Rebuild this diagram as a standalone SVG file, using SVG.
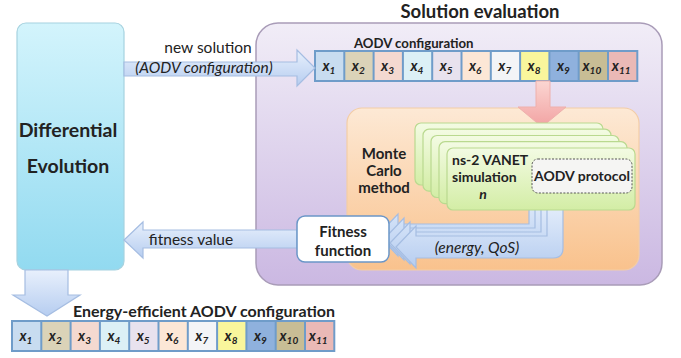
<svg xmlns="http://www.w3.org/2000/svg" width="681" height="358" viewBox="0 0 681 358">
<defs>
<linearGradient id="gDE" x1="0" y1="0" x2="0" y2="1"><stop offset="0" stop-color="#d3f4fc"/><stop offset="1" stop-color="#92daf0"/></linearGradient>
<linearGradient id="gPur" x1="0" y1="0" x2="0" y2="1"><stop offset="0" stop-color="#f1edf7"/><stop offset="1" stop-color="#cbb8e2"/></linearGradient>
<linearGradient id="gOr" x1="0" y1="0" x2="0" y2="1"><stop offset="0" stop-color="#fde9d5"/><stop offset="1" stop-color="#f9c28d"/></linearGradient>
<linearGradient id="gGr" x1="0" y1="0" x2="0" y2="1"><stop offset="0" stop-color="#f3fbe3"/><stop offset="1" stop-color="#d3eda5"/></linearGradient>
<linearGradient id="gBl" x1="0" y1="0" x2="0" y2="1"><stop offset="0" stop-color="#e8f0fc"/><stop offset="1" stop-color="#b6cdf0"/></linearGradient>
<linearGradient id="gPk" x1="0" y1="0" x2="0" y2="1"><stop offset="0" stop-color="#fbd6d2"/><stop offset="1" stop-color="#f2a2a2"/></linearGradient>
<g id="row">
<rect x="0" y="0" width="29.3" height="30" fill="#c8dcf0"/>
<rect x="29.3" y="0" width="29.3" height="30" fill="#dbd3b8"/>
<rect x="58.6" y="0" width="29.3" height="30" fill="#f4d9d0"/>
<rect x="87.9" y="0" width="29.3" height="30" fill="#dcf0f6"/>
<rect x="117.2" y="0" width="29.3" height="30" fill="#e8e2ee"/>
<rect x="146.5" y="0" width="29.3" height="30" fill="#fce7d6"/>
<rect x="175.8" y="0" width="29.3" height="30" fill="#f3f4f7"/>
<rect x="205.1" y="0" width="29.3" height="30" fill="#f9f69c"/>
<rect x="234.4" y="0" width="29.3" height="30" fill="#8fb1dd"/>
<rect x="263.7" y="0" width="29.3" height="30" fill="#c8bd95"/>
<rect x="293" y="0" width="29.3" height="30" fill="#eab9b6"/>
<g fill="none" stroke="#6f9cc9" stroke-width="2">
<rect x="0" y="0" width="322.3" height="30"/>
<path d="M29.3 0V30M58.6 0V30M87.9 0V30M117.2 0V30M146.5 0V30M175.8 0V30M205.1 0V30M234.4 0V30M263.7 0V30M293 0V30"/>
</g>
<g class="cx">
<text x="7.5" y="20">x<tspan class="sb" dy="3">1</tspan></text>
<text x="36.8" y="20">x<tspan class="sb" dy="3">2</tspan></text>
<text x="66.1" y="20">x<tspan class="sb" dy="3">3</tspan></text>
<text x="95.4" y="20">x<tspan class="sb" dy="3">4</tspan></text>
<text x="124.7" y="20">x<tspan class="sb" dy="3">5</tspan></text>
<text x="154" y="20">x<tspan class="sb" dy="3">6</tspan></text>
<text x="183.3" y="20">x<tspan class="sb" dy="3">7</tspan></text>
<text x="212.6" y="20">x<tspan class="sb" dy="3">8</tspan></text>
<text x="241.9" y="20">x<tspan class="sb" dy="3">9</tspan></text>
<text x="267.5" y="20">x<tspan class="sb" dy="3">10</tspan></text>
<text x="296.8" y="20">x<tspan class="sb" dy="3">11</tspan></text>
</g>
</g>
<path id="uarr" d="M396 247 L416 226 L416 236 L547 236 L547 200 L563 200 L563 248 Q563 258 553 258 L416 258 L416 268 Z"/>
</defs>
<style>
text{font-family:Lato,"Open Sans","Liberation Sans",sans-serif;fill:#222}
.b{font-weight:bold}
.cx text{font-size:14.5px;font-style:italic;font-weight:bold}
.sb{font-size:10px}
.lbl{font-size:15.5px}
.it{font-style:italic}
.ar{fill:url(#gBl);stroke:#a5bde2;stroke-width:1.2}
</style>

<g id="solution-evaluation">
<rect x="256" y="23" width="406" height="262" rx="22" fill="url(#gPur)" stroke="#a99cb8" stroke-width="1.5"/>
<text x="480" y="18" text-anchor="middle" class="b" font-size="18.5">Solution evaluation</text>
</g>

<g id="differential-evolution">
<rect x="17" y="23" width="107" height="247" rx="9" fill="url(#gDE)" stroke="#a6d2df" stroke-width="1.2"/>
<text x="68" y="137" text-anchor="middle" class="b" font-size="19.5">Differential</text>
<text x="68" y="173" text-anchor="middle" class="b" font-size="19.5">Evolution</text>
</g>

<g id="aodv-config">
<text x="354" y="48" class="b" font-size="13.2">AODV configuration</text>
<use href="#row" x="315" y="51"/>
</g>

<g id="monte-carlo">
<rect x="347" y="108" width="292" height="162" rx="15" fill="url(#gOr)" stroke="#f3cda6" stroke-width="1.2"/>
<text x="384" y="159" text-anchor="middle" class="b" font-size="15">Monte</text>
<text x="384" y="176" text-anchor="middle" class="b" font-size="15">Carlo</text>
<text x="384" y="193" text-anchor="middle" class="b" font-size="15">method</text>
</g>

<g id="connectors">
<path class="ar" d="M124 62 L297 62 L297 50 L315 68 L297 86 L297 76 L124 76 Z"/>
<text x="208" y="53" text-anchor="middle" class="lbl">new solution</text>
<text x="204" y="73" text-anchor="middle" class="lbl it">(AODV configuration)</text>
<path d="M536 81 L550 81 L550 107 L566 107 L542 127 L518 107 L536 107 Z" fill="url(#gPk)" stroke="#eeb0ac" stroke-width="1"/>
<g class="ar" stroke="#ffffff">
<use href="#uarr" x="-18" y="-12"/>
<use href="#uarr" x="-12" y="-8"/>
<use href="#uarr" x="-6" y="-4"/>
</g>
<use href="#uarr" class="ar"/>
<text x="477" y="253" text-anchor="middle" class="lbl it">(energy, QoS)</text>
<path class="ar" d="M297 230 L143 230 L143 222 L124 240 L143 258 L143 248 L297 248 Z"/>
<text x="191" y="245" text-anchor="middle" class="lbl">fitness value</text>
<path class="ar" d="M25 270 L68 270 L68 295 L80 295 L47 316 L13 295 L25 295 Z"/>
</g>

<g id="ns2-simulation">
<g fill="url(#gGr)" stroke="#b9d98f" stroke-width="1.2">
<rect x="415" y="123" width="188" height="62" rx="6"/>
<rect x="423" y="129.2" width="188" height="62" rx="6"/>
<rect x="431" y="135.5" width="188" height="62" rx="6"/>
<rect x="439" y="141.7" width="188" height="62" rx="6"/>
<rect x="447" y="148" width="188" height="62" rx="6"/>
</g>
<text x="452" y="165" class="b" font-size="14">ns-2 VANET</text>
<text x="452" y="182" class="b" font-size="14">simulation</text>
<text x="483" y="199" text-anchor="middle" class="b it" font-size="14">n</text>
</g>

<g id="aodv-protocol">
<rect x="532" y="159" width="100" height="34" rx="6" fill="#f5f5f3" stroke="#555" stroke-width="1" stroke-dasharray="2 1.5"/>
<text x="582" y="181" text-anchor="middle" class="b" font-size="14">AODV protocol</text>
</g>

<g id="fitness-function">
<rect x="297" y="216" width="92" height="46" rx="8" fill="#ffffff" stroke="#6b96c8" stroke-width="1.5"/>
<text x="343" y="237" text-anchor="middle" class="b" font-size="15">Fitness</text>
<text x="343" y="256" text-anchor="middle" class="b" font-size="15">function</text>
</g>

<g id="energy-efficient-config">
<text x="335" y="317" text-anchor="end" class="b" font-size="16">Energy-efficient AODV configuration</text>
<use href="#row" x="12" y="321"/>
</g>
</svg>
